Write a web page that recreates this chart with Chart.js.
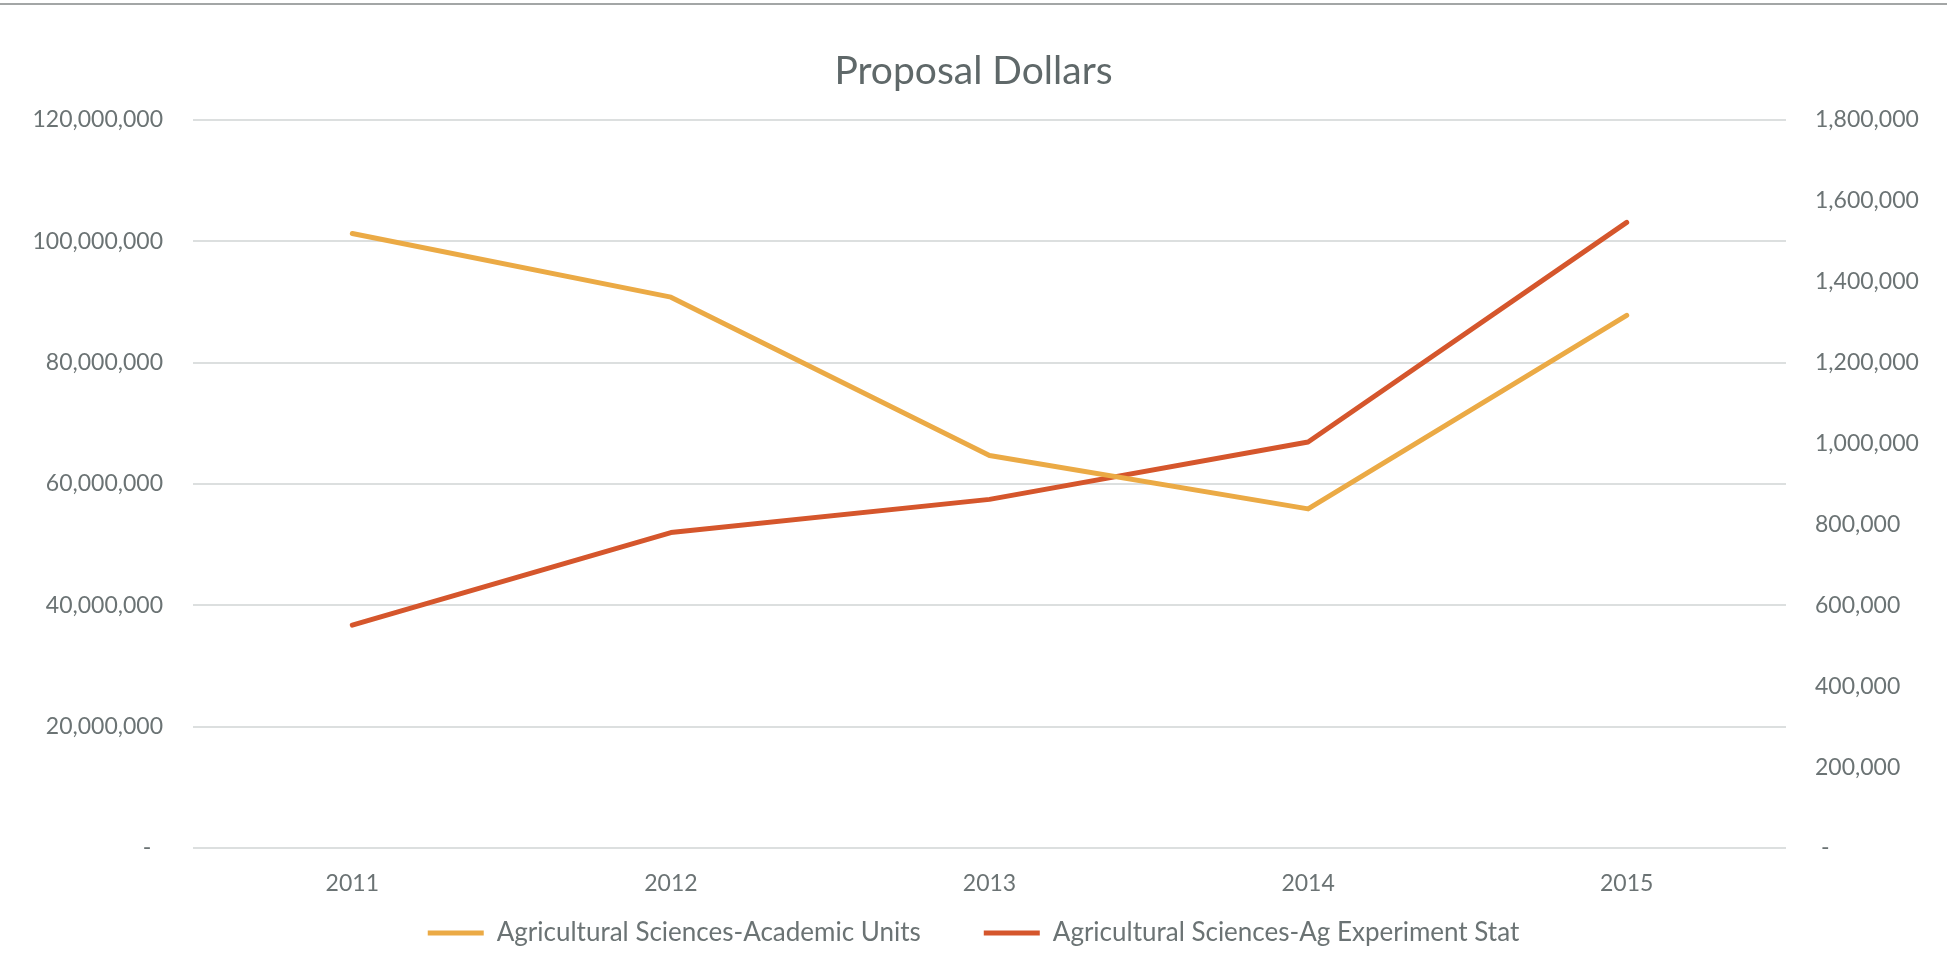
<!DOCTYPE html>
<html>
<head>
<meta charset="utf-8">
<script src="https://cdn.jsdelivr.net/npm/chart.js@4/dist/chart.umd.min.js"></script>
<style>
    html, body { margin: 0; padding: 0; background: #ffffff; }
    #wrap { position: relative; width: 1947px; height: 957px; }
    #topRule { position: absolute; left: 0; top: 3px; width: 1947px; height: 2px; background: #a3a6a6; }
</style>
</head>
<body>
<div id="wrap">
    <canvas id="proposalChart"></canvas>
    <div id="topRule"></div>
</div>
<script>
const years = ['2011', '2012', '2013', '2014', '2015'];
const academicUnits = [101300000, 90800000, 64700000, 55900000, 87800000];
const agExperimentStat = [551000, 780000, 862000, 1004000, 1547000];
const seriesNames = ['Agricultural Sciences-Academic Units', 'Agricultural Sciences-Ag Experiment Stat'];
const seriesColors = ['#ebaa45', '#d5562c'];

const textColor = '#6b7374';
const fontFamily = 'Lato, "Open Sans", sans-serif';

function fmt(v) {
    return Math.round(v).toLocaleString('en-US');
}

const ctx = document.getElementById('proposalChart').getContext('2d');

new Chart(ctx, {
    type: 'line',
    data: {
        labels: years,
        datasets: [
            {
                label: seriesNames[0],
                data: academicUnits,
                yAxisID: 'y',
                borderColor: seriesColors[0],
                backgroundColor: seriesColors[0],
                borderWidth: 5,
                borderCapStyle: 'round',
                borderJoinStyle: 'round',
                pointRadius: 0,
                tension: 0
            },
            {
                label: seriesNames[1],
                data: agExperimentStat,
                yAxisID: 'y1',
                borderColor: seriesColors[1],
                backgroundColor: seriesColors[1],
                borderWidth: 5,
                borderCapStyle: 'round',
                borderJoinStyle: 'round',
                pointRadius: 0,
                tension: 0
            }
        ]
    },
    options: {
        responsive: true,
        maintainAspectRatio: false,
        animation: false,
        layout: { padding: { left: 0, right: 0, top: 0, bottom: 1 } },
        plugins: {
            title: {
                display: true,
                text: 'Proposal Dollars',
                color: '#5f6869',
                font: { family: fontFamily, size: 39, weight: 'normal' },
                padding: { top: 47.6, bottom: 25.6 }
            },
            legend: {
                position: 'bottom',
                labels: {
                    usePointStyle: true,
                    pointStyle: 'line',
                    pointStyleWidth: 56,
                    padding: 24,
                    color: textColor,
                    font: { family: fontFamily, size: 26 },
                    generateLabels: chart => {
                        const items = Chart.defaults.plugins.legend.labels.generateLabels(chart);
                        // wider gap between the two entries, like the original
                        items.forEach((it, i) => {
                            if (i < items.length - 1) it.text = it.text + '\u2003\u2003';
                        });
                        return items;
                    }
                }
            },
            tooltip: { enabled: false }
        },
        scales: {
            x: {
                offset: true,
                grid: { display: false },
                border: { display: false },
                ticks: {
                    color: textColor,
                    font: { family: fontFamily, size: 23 },
                    padding: 14,
                    maxRotation: 0
                },
                afterFit: s => { s.height = 48; }
            },
            y: {
                position: 'left',
                min: 0,
                max: 120000000,
                ticks: {
                    stepSize: 20000000,
                    color: textColor,
                    font: { family: fontFamily, size: 23 },
                    padding: 30,
                    callback: v => v === 0 ? '-  ' : fmt(v)
                },
                grid: { color: '#dcdfdf', lineWidth: 2, drawTicks: false },
                border: { display: false },
                afterFit: s => { s.width = 193; }
            },
            y1: {
                position: 'right',
                min: 0,
                max: 1800000,
                ticks: {
                    stepSize: 200000,
                    color: textColor,
                    font: { family: fontFamily, size: 23 },
                    padding: 29,
                    callback: v => v === 0 ? ' -' : fmt(v)
                },
                grid: { drawOnChartArea: false, drawTicks: false },
                border: { display: false },
                afterFit: s => { s.width = 161; }
            }
        }
    }
});
</script>
</body>
</html>
